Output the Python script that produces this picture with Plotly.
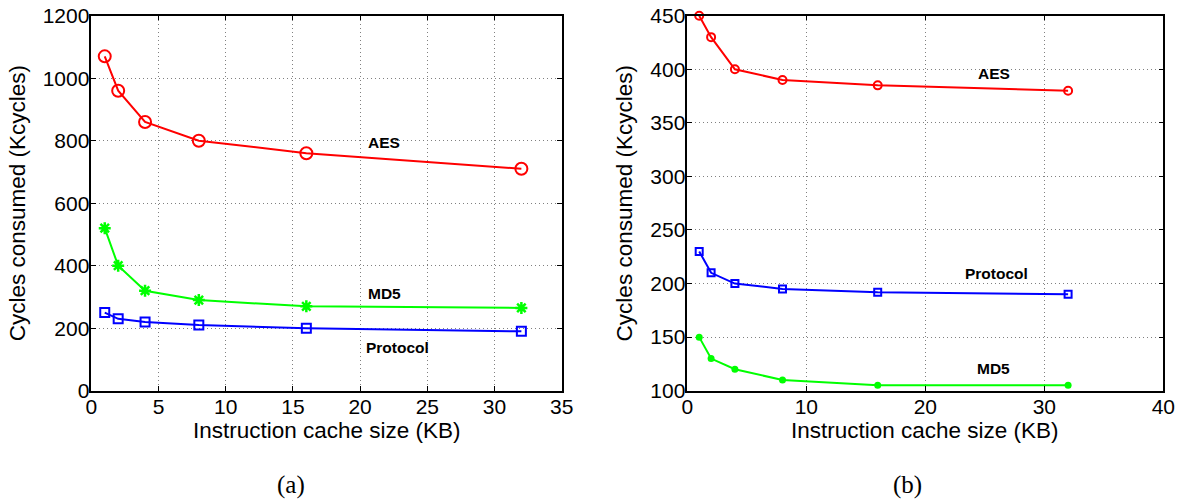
import plotly.graph_objects as go
from plotly.subplots import make_subplots

cache_kb = [1, 2, 4, 8, 16, 32]

# Panel (a)
a_aes = [1070, 960, 860, 800, 760, 710]
a_md5 = [520, 400, 320, 290, 270, 265]
a_protocol = [250, 230, 220, 210, 200, 190]

# Panel (b)
b_aes = [450, 430, 400, 390, 385, 380]
b_protocol = [230, 210, 200, 195, 192, 190]
b_md5 = [150, 130, 120, 110, 105, 105]

RED, GREEN, BLUE = "#FF0000", "#00FF00", "#0000FF"

W, H = 1188, 501
def px(x):
    return x / W
def py(y):
    return 1 - y / H

fig = make_subplots(rows=1, cols=2)

def add(x, y, color, symbol, size, col, lw=2):
    fig.add_trace(go.Scatter(
        x=x, y=y, mode="lines+markers",
        line=dict(color=color, width=2),
        marker=dict(symbol=symbol, size=size, color=color,
                    line=dict(color=color, width=lw)),
        showlegend=False, cliponaxis=False), row=1, col=col)

add(cache_kb, a_aes, RED, "circle-open", 12, 1)
add(cache_kb, a_md5, GREEN, "asterisk-open", 10, 1, lw=2.5)
add(cache_kb, a_protocol, BLUE, "square-open", 9, 1)

add(cache_kb, b_aes, RED, "circle-open", 8, 2)
add(cache_kb, b_protocol, BLUE, "square-open", 7, 2)
add(cache_kb, b_md5, GREEN, "circle", 7, 2, lw=0)

font = "Liberation Sans, Arial, sans-serif"
axis_common = dict(
    showline=True, linecolor="black", linewidth=1.5, mirror="ticks",
    ticks="inside", ticklen=5, tickcolor="black",
    showgrid=True, gridcolor="#808080", griddash="1px,3px", gridwidth=1,
    zeroline=False, tickfont=dict(family=font, size=21, color="black"),
    automargin=False,
)

fig.update_xaxes(**axis_common, ticklabelstandoff=-4)
fig.update_yaxes(**axis_common, ticklabelstandoff=-4)

title_font = dict(family=font, size=22.5, color="black")
ytitle = dict(text="Cycles consumed (Kcycles)", font=title_font, standoff=11)

xa = [px(91.3), px(561.7)]
xb = [px(687.3), px(1163.3)]
yd = [py(390.7), py(15.7)]

fig.update_xaxes(range=[0, 35], tickvals=[0, 5, 10, 15, 20, 25, 30, 35],
                 domain=xa, row=1, col=1)
fig.update_yaxes(range=[0, 1200], tickvals=[0, 200, 400, 600, 800, 1000, 1200], title=ytitle,
                 domain=yd, row=1, col=1)
fig.update_xaxes(range=[0, 40], tickvals=[0, 10, 20, 30, 40],
                 domain=xb, row=1, col=2)
fig.update_yaxes(range=[100, 450], tickvals=[100, 150, 200, 250, 300, 350, 400, 450], title=ytitle,
                 domain=yd, row=1, col=2)

# x-axis titles
for dom in (xa, xb):
    fig.add_annotation(xref="paper", yref="paper", x=(dom[0] + dom[1]) / 2, y=py(430),
                       text="Instruction cache size (KB)", showarrow=False,
                       font=title_font, xanchor="center", yanchor="middle")

lab = dict(family=font, size=15.5, color="black", weight="bold")
anns = [
    ("x", "y", 21.8, 793, "AES"),
    ("x", "y", 21.8, 312, "MD5"),
    ("x", "y", 22.8, 137, "Protocol"),
    ("x2", "y2", 25.8, 396.5, "AES"),
    ("x2", "y2", 26.0, 209, "Protocol"),
    ("x2", "y2", 25.7, 121, "MD5"),
]
for xr, yr, x, y, t in anns:
    fig.add_annotation(xref=xr, yref=yr, x=x, y=y, text=t, showarrow=False, font=lab,
                       xanchor="center", yanchor="middle")

cap = dict(family="Liberation Serif, DejaVu Serif, serif", size=25, color="black")
fig.add_annotation(xref="paper", yref="paper", x=px(291), y=py(485), text="(a)",
                   showarrow=False, font=cap, xanchor="center", yanchor="middle")
fig.add_annotation(xref="paper", yref="paper", x=px(907), y=py(485), text="(b)",
                   showarrow=False, font=cap, xanchor="center", yanchor="middle")

fig.update_layout(width=W, height=H, margin=dict(l=0, r=0, t=0, b=0),
                  plot_bgcolor="white", paper_bgcolor="white")

fig.write_html("out.html", config={"displayModeBar": False},
               post_script="document.body.style.margin='0';")
